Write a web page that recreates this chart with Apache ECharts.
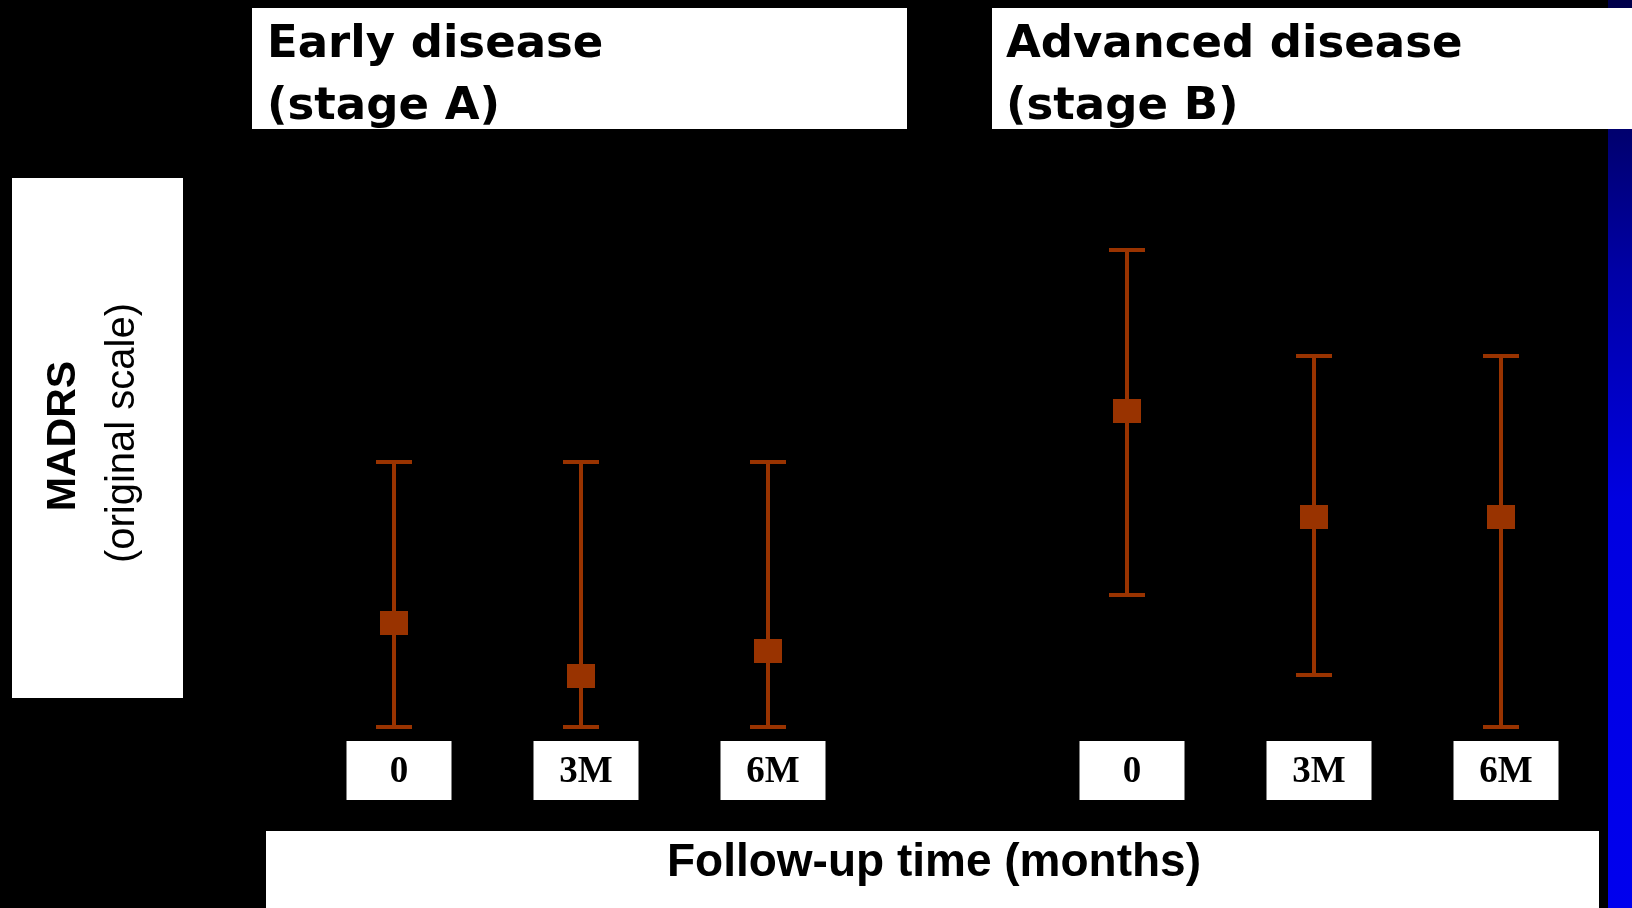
<!DOCTYPE html>
<html>
<head>
<meta charset="utf-8">
<script src="https://cdn.jsdelivr.net/npm/echarts@6/dist/echarts.min.js"></script>
<style>
  html, body { margin: 0; padding: 0; background: #000; }
  #chart { width: 1632px; height: 908px; }
</style>
</head>
<body>
<div id="chart"></div>
<script>
// ---- data (MADRS, original scale) ----
const categories = ['0', '3M', '6M'];
const earlyMean  = [5.2, 2.55, 3.8];
const earlyLower = [0, 0, 0];
const earlyUpper = [13.25, 13.25, 13.25];
const advMean    = [15.8, 10.5, 10.5];
const advLower   = [6.6, 2.6, 0];
const advUpper   = [23.85, 18.55, 18.55];

const panelTitles = [['Early disease', '(stage A)'], ['Advanced disease', '(stage B)']];
const yTitle = ['MADRS', '(original scale)'];
const xTitle = 'Follow-up time (months)';

const MARK = '#993300';

function errorRender(params, api) {
  const idx = api.value(0);
  const lo = api.coord([idx, api.value(1)]).map(Math.round);
  const hi = api.coord([idx, api.value(2)]).map(Math.round);
  const half = 18;
  const st = { stroke: MARK, lineWidth: 4 };
  return {
    type: 'group',
    children: [
      { type: 'line', shape: { x1: lo[0], y1: lo[1], x2: hi[0], y2: hi[1] }, style: st },
      { type: 'line', shape: { x1: lo[0] - half, y1: lo[1], x2: lo[0] + half, y2: lo[1] }, style: st },
      { type: 'line', shape: { x1: hi[0] - half, y1: hi[1], x2: hi[0] + half, y2: hi[1] }, style: st }
    ]
  };
}

function xAxisCfg(gi) {
  return {
    type: 'category', gridIndex: gi, data: categories,
    axisLine: { show: false }, axisTick: { show: false }, splitLine: { show: false },
    axisLabel: {
      margin: 25,
      formatter: v => '{s| }{b|' + v + '}',
      rich: {
        s: { width: 10, fontSize: 10 },
        b: {
          color: '#000',
          fontFamily: '"Liberation Serif", "DejaVu Serif", serif',
          fontWeight: 'bold',
          fontSize: 37,
          lineHeight: 37,
          backgroundColor: '#ffffff',
          width: 105,
          align: 'center',
          padding: [13, 0, 9, 0]
        }
      }
    }
  };
}
function yAxisCfg(gi) {
  return { type: 'value', gridIndex: gi, min: 0, max: 30, show: false, splitLine: { show: false } };
}

const chart = echarts.init(document.getElementById('chart'), null, { renderer: 'canvas' });
chart.setOption({
  backgroundColor: '#000000',
  animation: false,
  grid: [
    { left: 300.5, width: 561, top: 127, height: 600 },
    { left: 1033.5, width: 561, top: 127, height: 600 }
  ],
  xAxis: [xAxisCfg(0), xAxisCfg(1)],
  yAxis: [yAxisCfg(0), yAxisCfg(1)],
  series: [
    { type: 'custom', xAxisIndex: 0, yAxisIndex: 0, renderItem: errorRender,
      encode: { x: 0, y: [1, 2] },
      data: categories.map((c, i) => [i, earlyLower[i], earlyUpper[i]]) },
    { type: 'custom', xAxisIndex: 1, yAxisIndex: 1, renderItem: errorRender,
      encode: { x: 0, y: [1, 2] },
      data: categories.map((c, i) => [i, advLower[i], advUpper[i]]) },
    { type: 'scatter', xAxisIndex: 0, yAxisIndex: 0, symbol: 'rect', symbolSize: [28, 24],
      itemStyle: { color: MARK, opacity: 1 }, z: 5,
      data: categories.map((c, i) => [i, earlyMean[i]]) },
    { type: 'scatter', xAxisIndex: 1, yAxisIndex: 1, symbol: 'rect', symbolSize: [28, 24],
      itemStyle: { color: MARK, opacity: 1 }, z: 5,
      data: categories.map((c, i) => [i, advMean[i]]) }
  ],
  graphic: [
    { type: 'rect', z: 1, shape: { x: 1608, y: 0, width: 24, height: 908 },
      style: { fill: new echarts.graphic.LinearGradient(0, 0, 0, 1, [
        { offset: 0, color: '#00004a' },
        { offset: 0.15, color: '#000070' },
        { offset: 0.3, color: '#0000a6' },
        { offset: 0.55, color: '#0000e0' },
        { offset: 1, color: '#0000ee' }
      ]) } },
    // panel titles
    { type: 'rect', z: 2, shape: { x: 252, y: 8, width: 655, height: 121 }, style: { fill: '#ffffff' } },
    { type: 'rect', z: 2, shape: { x: 992, y: 8, width: 640, height: 121 }, style: { fill: '#ffffff' } },
    { type: 'text', z: 3, style: { x: 267, y: 45, text: panelTitles[0][0], fill: '#000',
      font: 'bold 45px "DejaVu Sans", sans-serif', textAlign: 'left', textVerticalAlign: 'middle' } },
    { type: 'text', z: 3, style: { x: 267, y: 107, text: panelTitles[0][1], fill: '#000',
      font: 'bold 45px "DejaVu Sans", sans-serif', textAlign: 'left', textVerticalAlign: 'middle' } },
    { type: 'text', z: 3, style: { x: 1006, y: 45, text: panelTitles[1][0], fill: '#000',
      font: 'bold 45px "DejaVu Sans", sans-serif', textAlign: 'left', textVerticalAlign: 'middle' } },
    { type: 'text', z: 3, style: { x: 1006, y: 107, text: panelTitles[1][1], fill: '#000',
      font: 'bold 45px "DejaVu Sans", sans-serif', textAlign: 'left', textVerticalAlign: 'middle' } },
    // y-axis title
    { type: 'rect', z: 2, shape: { x: 12, y: 178, width: 171, height: 520 }, style: { fill: '#ffffff' } },
    { type: 'text', z: 3, x: 64, y: 436, rotation: Math.PI / 2,
      style: { x: 0, y: 0, text: yTitle[0], fill: '#000', font: 'bold 41px "Liberation Sans", Arial, sans-serif',
        textAlign: 'center', textVerticalAlign: 'middle' } },
    { type: 'text', z: 3, x: 123, y: 433, rotation: Math.PI / 2,
      style: { x: 0, y: 0, text: yTitle[1], fill: '#000', font: '40px "Liberation Sans", Arial, sans-serif',
        textAlign: 'center', textVerticalAlign: 'middle' } },
    // x-axis title
    { type: 'rect', z: 2, shape: { x: 266, y: 831, width: 1333, height: 77 }, style: { fill: '#ffffff' } },
    { type: 'text', z: 3, style: { x: 934, y: 863, text: xTitle, fill: '#000',
      font: 'bold 46px "Liberation Sans", Arial, sans-serif', textAlign: 'center', textVerticalAlign: 'middle' } }
  ]
});
</script>
</body>
</html>
